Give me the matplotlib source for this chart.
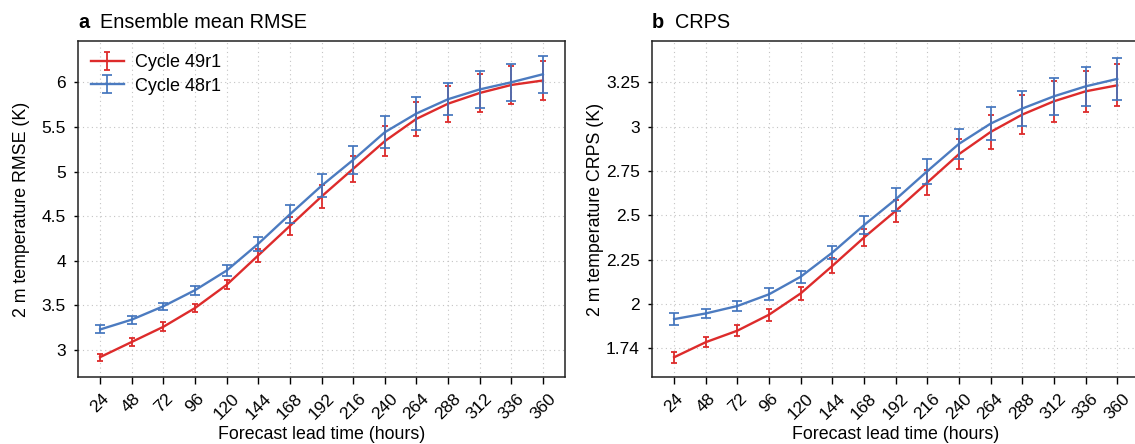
import numpy as np
import matplotlib
matplotlib.use("Agg")
import matplotlib.pyplot as plt

plt.rcParams['font.family'] = ['Liberation Sans', 'DejaVu Sans']

# forecast lead times (hours)
lead_times = [24, 48, 72, 96, 120, 144, 168, 192, 216, 240, 264, 288, 312, 336, 360]

# panel a: ensemble mean RMSE (K)
rmse_49r1 = [2.92, 3.09, 3.26, 3.47, 3.73, 4.06, 4.39, 4.72, 5.03, 5.34, 5.59, 5.76, 5.88, 5.97, 6.02]
rmse_49r1_err = [0.04, 0.05, 0.05, 0.045, 0.05, 0.07, 0.10, 0.125, 0.145, 0.17, 0.19, 0.20, 0.21, 0.215, 0.22]
rmse_48r1 = [3.23, 3.34, 3.49, 3.67, 3.89, 4.19, 4.52, 4.84, 5.13, 5.44, 5.65, 5.81, 5.92, 6.00, 6.09]
rmse_48r1_err = [0.045, 0.045, 0.04, 0.05, 0.06, 0.077, 0.10, 0.127, 0.16, 0.178, 0.183, 0.18, 0.207, 0.21, 0.205]

# panel b: CRPS (K)
crps_49r1 = [1.70, 1.785, 1.85, 1.94, 2.06, 2.215, 2.375, 2.525, 2.685, 2.845, 2.97, 3.068, 3.143, 3.199, 3.233]
crps_49r1_err = [0.03, 0.03, 0.03, 0.033, 0.037, 0.042, 0.05, 0.06, 0.073, 0.085, 0.098, 0.11, 0.116, 0.116, 0.118]
crps_48r1 = [1.915, 1.947, 1.989, 2.055, 2.154, 2.29, 2.445, 2.59, 2.749, 2.903, 3.017, 3.102, 3.171, 3.227, 3.269]
crps_48r1_err = [0.033, 0.027, 0.03, 0.034, 0.033, 0.038, 0.05, 0.063, 0.07, 0.083, 0.093, 0.098, 0.106, 0.11, 0.12]

rmse_ticks = [3, 3.5, 4, 4.5, 5, 5.5, 6]
rmse_ticklabels = ['3', '3.5', '4', '4.5', '5', '5.5', '6']
crps_ticks = [1.75, 2, 2.25, 2.5, 2.75, 3, 3.25]
crps_ticklabels = ['1.74', '2', '2.25', '2.5', '2.75', '3', '3.25']

RED = '#dd2b2b'
BLUE = '#4274bd'

W, H = 1135, 444
fig = plt.figure(figsize=(W / 100, H / 100), dpi=100)


def px_axes(left, top, right, bottom):
    return fig.add_axes([left / W, 1 - bottom / H, (right - left) / W, (bottom - top) / H])


def draw_panel(ax, red_vals, red_err, blue_vals, blue_err, ylim, yticks, yticklabels, ylabel, legend=False):
    ax.errorbar(lead_times, red_vals, yerr=red_err, color=RED, lw=1.7, elinewidth=1.3,
                capsize=2.4, capthick=1.3, label='Cycle 49r1', zorder=3)
    ax.errorbar(lead_times, blue_vals, yerr=blue_err, color=BLUE, lw=1.7, elinewidth=1.3,
                capsize=3.6, capthick=1.3, label='Cycle 48r1', zorder=4, alpha=0.95)
    ax.set_xlim(7, 377)
    ax.set_ylim(*ylim)
    ax.set_xticks(lead_times)
    ax.set_xticklabels([str(t) for t in lead_times], rotation=45, ha='center', fontsize=12.5)
    ax.set_yticks(yticks)
    ax.set_yticklabels(yticklabels, fontsize=12.5)
    ax.tick_params(axis='x', length=5, width=1, pad=5)
    ax.tick_params(axis='y', length=3, width=1, pad=5.5)
    ax.grid(True, ls=(0, (1, 3)), color='#c4c4c4', lw=0.8)
    ax.set_axisbelow(True)
    for s in ax.spines.values():
        s.set_linewidth(1.1)
        s.set_color('#222222')
    ax.set_xlabel('Forecast lead time (hours)', fontsize=12.8)
    ax.set_ylabel(ylabel, fontsize=12.8)
    ax.xaxis.set_label_coords(0.5, -0.145)
    ax.yaxis.set_label_coords(-0.098, 0.5)
    if legend:
        ax.legend(loc='upper left', frameon=False, fontsize=13, handlelength=1.8,
                  borderaxespad=0.35, labelspacing=0.35, handletextpad=0.6)


ax_a = px_axes(77.7, 40.7, 565.3, 377.3)
draw_panel(ax_a, rmse_49r1, rmse_49r1_err, rmse_48r1, rmse_48r1_err, (2.694, 6.466),
           rmse_ticks, rmse_ticklabels, '2 m temperature RMSE (K)', legend=True)

ax_b = px_axes(651.7, 40.7, 1139.6, 377.3)
draw_panel(ax_b, crps_49r1, crps_49r1_err, crps_48r1, crps_48r1_err, (1.587, 3.4845),
           crps_ticks, crps_ticklabels, '2 m temperature CRPS (K)')

# panel titles
fig.text(78 / W, 1 - 28 / H, 'a', fontsize=14.3, fontweight='bold', va='baseline')
fig.text(100 / W, 1 - 28 / H, 'Ensemble mean RMSE', fontsize=14.3, va='baseline')
fig.text(652 / W, 1 - 28 / H, 'b', fontsize=14.3, fontweight='bold', va='baseline')
fig.text(675 / W, 1 - 28 / H, 'CRPS', fontsize=14.3, va='baseline')

fig.savefig('out.png', dpi=100)
